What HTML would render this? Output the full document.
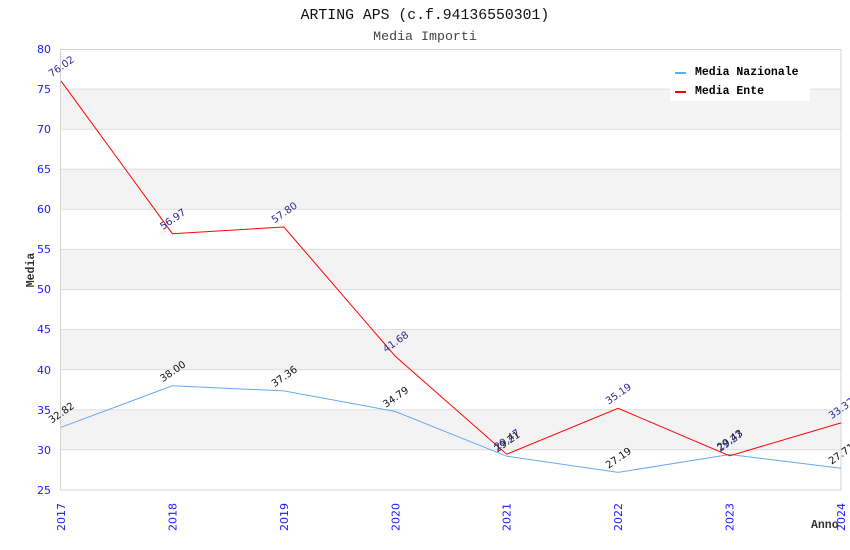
<!DOCTYPE html>
<html><head><meta charset="utf-8"><style>
html,body{margin:0;padding:0;background:#fff;}
svg{display:block;}
</style></head><body>
<svg width="850" height="550" viewBox="0 0 850 550" xmlns="http://www.w3.org/2000/svg">
<rect width="850" height="550" fill="#fff"/>
<text x="425" y="19" text-anchor="middle" font-family="Liberation Mono, monospace" font-size="14.8" fill="#111">ARTING APS (c.f.94136550301)</text>
<text x="425" y="40" text-anchor="middle" font-family="Liberation Mono, monospace" font-size="13.3" fill="#444">Media Importi</text>
<!-- bands -->
<g fill="#f3f3f3">
<rect x="61" y="89.1" width="780" height="40.1"/>
<rect x="61" y="169.2" width="780" height="40.1"/>
<rect x="61" y="249.4" width="780" height="40.1"/>
<rect x="61" y="329.5" width="780" height="40.1"/>
<rect x="61" y="409.7" width="780" height="40.1"/>
</g>
<g stroke="#dddddd" stroke-width="1">
<line x1="61" x2="841" y1="89.1" y2="89.1"/>
<line x1="61" x2="841" y1="129.2" y2="129.2"/>
<line x1="61" x2="841" y1="169.2" y2="169.2"/>
<line x1="61" x2="841" y1="209.3" y2="209.3"/>
<line x1="61" x2="841" y1="249.4" y2="249.4"/>
<line x1="61" x2="841" y1="289.5" y2="289.5"/>
<line x1="61" x2="841" y1="329.5" y2="329.5"/>
<line x1="61" x2="841" y1="369.6" y2="369.6"/>
<line x1="61" x2="841" y1="409.7" y2="409.7"/>
<line x1="61" x2="841" y1="449.8" y2="449.8"/>
</g>
<rect x="60.5" y="49.5" width="780.5" height="440.5" fill="none" stroke="#d4d4d4" stroke-width="1"/>
<!-- y labels -->
<g font-family="DejaVu Sans, sans-serif" font-size="11" fill="#1a1aff" text-anchor="end">
<text x="51" y="53">80</text>
<text x="51" y="93">75</text>
<text x="51" y="133">70</text>
<text x="51" y="173">65</text>
<text x="51" y="213">60</text>
<text x="51" y="253">55</text>
<text x="51" y="293">50</text>
<text x="51" y="333">45</text>
<text x="51" y="374">40</text>
<text x="51" y="414">35</text>
<text x="51" y="454">30</text>
<text x="51" y="494">25</text>
</g>
<!-- x labels -->
<g font-family="DejaVu Sans, sans-serif" font-size="11" fill="#1a1aff" text-anchor="end">
<text transform="translate(65,503) rotate(-90)">2017</text>
<text transform="translate(176.4,503) rotate(-90)">2018</text>
<text transform="translate(287.9,503) rotate(-90)">2019</text>
<text transform="translate(399.3,503) rotate(-90)">2020</text>
<text transform="translate(510.7,503) rotate(-90)">2021</text>
<text transform="translate(622.1,503) rotate(-90)">2022</text>
<text transform="translate(733.6,503) rotate(-90)">2023</text>
<text transform="translate(845,503) rotate(-90)">2024</text>
</g>
<text transform="translate(34,270) rotate(-90)" text-anchor="middle" font-family="Liberation Mono, monospace" font-weight="bold" font-size="11.5" fill="#333">Media</text>
<text x="811" y="528" font-family="Liberation Mono, monospace" font-weight="bold" font-size="11.5" fill="#333">Anno</text>
<!-- series -->
<polyline fill="none" stroke="#66aaee" stroke-width="1" points="61,427.3 172.4,385.8 283.9,390.9 395.3,411.5 506.7,456.2 618.1,472.4 729.6,454.5 841,468.3"/>
<polyline fill="none" stroke="#ff0000" stroke-width="1" points="61,80.9 172.4,233.7 283.9,227 395.3,356.3 506.7,454.2 618.1,408.3 729.6,455.8 841,422.9"/>
<!-- labels blue series -->
<g font-family="DejaVu Sans, sans-serif" font-size="10" fill="#111" text-anchor="middle">
<text transform="translate(61,412.3) rotate(-35)" dy="4">32.82</text>
<text transform="translate(172.4,370.8) rotate(-35)" dy="4">38.00</text>
<text transform="translate(283.9,375.9) rotate(-35)" dy="4">37.36</text>
<text transform="translate(395.3,396.5) rotate(-35)" dy="4">34.79</text>
<text transform="translate(506.7,441.2) rotate(-35)" dy="4">29.21</text>
<text transform="translate(618.1,457.4) rotate(-35)" dy="4">27.19</text>
<text transform="translate(729.6,439.5) rotate(-35)" dy="4">29.43</text>
<text transform="translate(841,453.3) rotate(-35)" dy="4">27.71</text>
</g>
<g font-family="DejaVu Sans, sans-serif" font-size="10" fill="#2a2a90" text-anchor="middle">
<text transform="translate(61,65.9) rotate(-35)" dy="4">76.02</text>
<text transform="translate(172.4,218.7) rotate(-35)" dy="4">56.97</text>
<text transform="translate(283.9,212) rotate(-35)" dy="4">57.80</text>
<text transform="translate(395.3,341.3) rotate(-35)" dy="4">41.68</text>
<text transform="translate(506.7,439.2) rotate(-35)" dy="4">29.47</text>
<text transform="translate(618.1,393.3) rotate(-35)" dy="4">35.19</text>
<text transform="translate(729.6,440.8) rotate(-35)" dy="4">29.27</text>
<text transform="translate(841,407.9) rotate(-35)" dy="4">33.37</text>
</g>
<!-- legend -->
<rect x="670" y="58" width="140" height="43" fill="#fff"/>
<line x1="675" x2="686" y1="73" y2="73" stroke="#66aaee" stroke-width="2"/>
<line x1="675" x2="686" y1="92" y2="92" stroke="#ff0000" stroke-width="2"/>
<g font-family="Liberation Mono, monospace" font-weight="bold" font-size="11.5" fill="#000">
<text x="695" y="75">Media Nazionale</text>
<text x="695" y="94">Media Ente</text>
</g>
</svg>
</body></html>
